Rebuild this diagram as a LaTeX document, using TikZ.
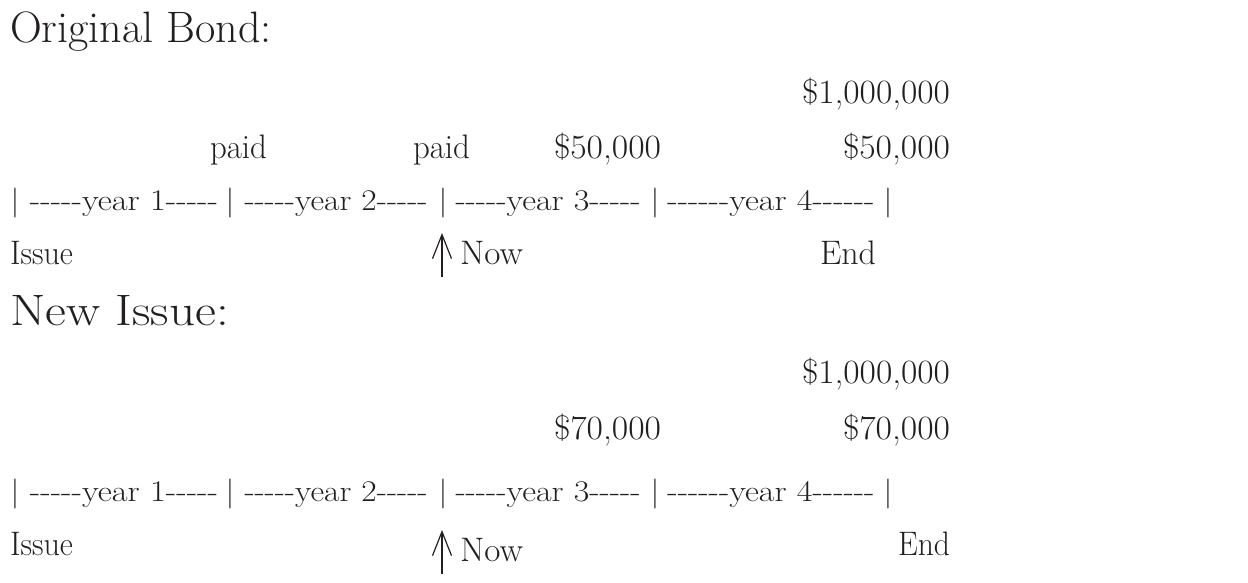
\documentclass[tikz,border=0pt]{standalone}
\usepackage{graphicx}
\usetikzlibrary{arrows.meta}
\definecolor{ink}{HTML}{231F20}
\newcommand\fw[2]{\resizebox{#1pt}{\height}{#2}}
\newcommand\hy{\mbox{-}}
\newcommand\dfive{\hy\hy\hy\hy\hy}
\newcommand\dsix{\hy\hy\hy\hy\hy\hy}
\tikzset{
  title/.style={inner sep=0pt, outer sep=0pt, anchor=base west, font=\fontsize{44}{50}\selectfont, text=ink},
  lbl/.style={inner sep=0pt, outer sep=0pt, font=\fontsize{34}{40}\selectfont, text=ink},
  tl/.style={inner sep=0pt, outer sep=0pt, anchor=base, font=\fontsize{30}{36}\selectfont, text=ink},
  nowarrow/.style={draw=ink, line width=1.2pt, -{Straight Barb[length=24pt,width=19pt,line width=1.2pt]}}
}
\begin{document}
\begin{tikzpicture}[x=1pt,y=-1pt]
\useasboundingbox (0,0) rectangle (1248,582);
% ---------- Original bond ----------
\node[title] (t1) at (10,42) {\fw{262}{Original Bond:}};
\node[lbl,anchor=base east] (a1) at (950,103) {\fw{148}{\$1,000,000}};
\node[lbl,anchor=base west] (p1) at (210,158) {\fw{57}{paid}};
\node[lbl,anchor=base west] (p2) at (413,158) {\fw{57}{paid}};
\node[lbl,anchor=base west] (c1) at (554,158) {\fw{107}{\$50,000}};
\node[lbl,anchor=base east] (c2) at (950,158) {\fw{107}{\$50,000}};
\node[tl] (b10) at (15,210) {|};
\node[tl] (s11) at (124,210) {\fw{188}{\dfive year 1\dfive}};
\node[tl] (b11) at (230,210) {|};
\node[tl] (s12) at (336,210) {\fw{183}{\dfive year 2\dfive}};
\node[tl] (b12) at (443,210) {|};
\node[tl] (s13) at (548,210) {\fw{185}{\dfive year 3\dfive}};
\node[tl] (b13) at (655,210) {|};
\node[tl] (s14) at (771,210) {\fw{207}{\dsix year 4\dsix}};
\node[tl] (b14) at (888,210) {|};
\node[lbl,anchor=base west] (i1) at (10,264) {\fw{63}{Issue}};
\node[lbl,anchor=base west] (n1) at (460,264) {\fw{63}{Now}};
\node[lbl,anchor=base west] (e1) at (820,264) {\fw{56}{End}};
\coordinate (n1b) at (442,277);
\coordinate (n1t) at (442,233);
\draw[nowarrow] (n1b) -- (n1t);
% ---------- New issue ----------
\node[title] (t2) at (10,325) {\fw{219}{New Issue:}};
\node[lbl,anchor=base east] (a2) at (950,383) {\fw{148}{\$1,000,000}};
\node[lbl,anchor=base west] (d1) at (554,439) {\fw{107}{\$70,000}};
\node[lbl,anchor=base east] (d2) at (950,439) {\fw{107}{\$70,000}};
\node[tl] (b20) at (15,501) {|};
\node[tl] (s21) at (124,501) {\fw{188}{\dfive year 1\dfive}};
\node[tl] (b21) at (230,501) {|};
\node[tl] (s22) at (336,501) {\fw{183}{\dfive year 2\dfive}};
\node[tl] (b22) at (443,501) {|};
\node[tl] (s23) at (548,501) {\fw{185}{\dfive year 3\dfive}};
\node[tl] (b23) at (655,501) {|};
\node[tl] (s24) at (771,501) {\fw{207}{\dsix year 4\dsix}};
\node[tl] (b24) at (888,501) {|};
\node[lbl,anchor=base west] (i2) at (10,555) {\fw{63}{Issue}};
\node[lbl,anchor=base west] (n2) at (460,561) {\fw{63}{Now}};
\node[lbl,anchor=base east] (e2) at (950,555) {\fw{52}{End}};
\coordinate (n2b) at (442,574);
\coordinate (n2t) at (442,530);
\draw[nowarrow] (n2b) -- (n2t);
\end{tikzpicture}
\end{document}
